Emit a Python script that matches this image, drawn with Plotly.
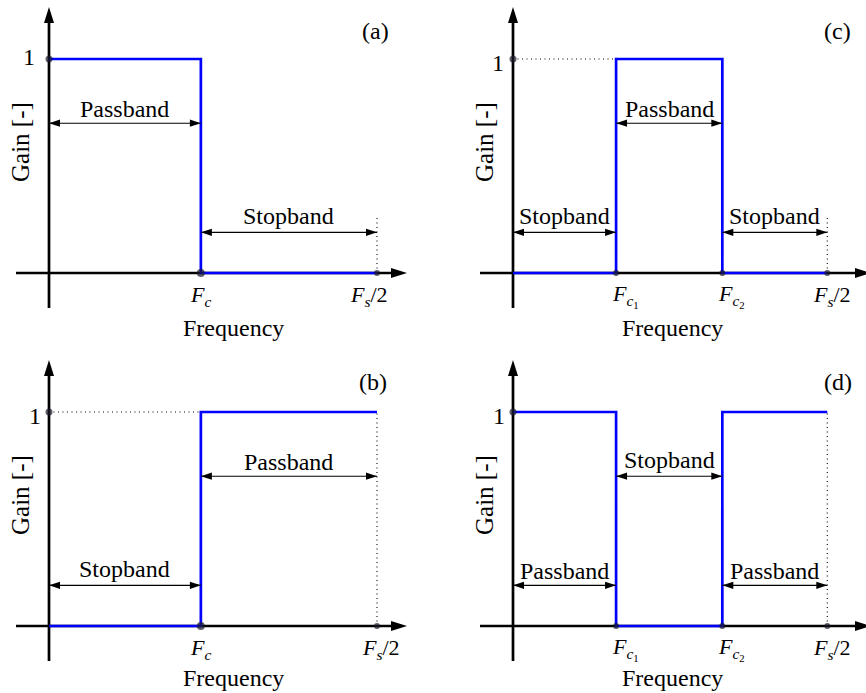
import plotly.graph_objects as go

# ---------------------------------------------------------------------------
# Ideal filter responses, frequency normalised so that Fs/2 = 1
# ---------------------------------------------------------------------------
FS_HALF = 1.0
FC_SINGLE = 0.463               # low-pass / high-pass cut-off Fc
FC_PAIR = [0.328, 0.666]        # band-pass / band-stop cut-offs Fc1, Fc2

LOWPASS_F = [0.0, FC_SINGLE, FS_HALF]
LOWPASS_G = [1, 0, 0]
HIGHPASS_F = [0.0, FC_SINGLE, FS_HALF]
HIGHPASS_G = [0, 1, 1]
BANDPASS_F = [0.0, FC_PAIR[0], FC_PAIR[1], FS_HALF]
BANDPASS_G = [0, 1, 0, 0]
BANDSTOP_F = [0.0, FC_PAIR[0], FC_PAIR[1], FS_HALF]
BANDSTOP_G = [1, 0, 1, 1]

UPPER_LEVEL = 0.70              # height of the upper band arrow
LOWER_LEVEL = 0.19              # height of the lower band arrow

FC_LABEL = "<i>F</i><sub><i>c</i></sub>"
FC1_LABEL = "<i>F</i><sub><i>c</i><sub>1</sub></sub>"
FC2_LABEL = "<i>F</i><sub><i>c</i><sub>2</sub></sub>"
FS_LABEL = "<i>F</i><sub><i>s</i></sub>/2"

W, H = 866, 693
FONT = "Liberation Serif, Times New Roman, serif"
BLUE = "#0000ff"

panels = [
    dict(tag="(a)", tag_pos=(375, 31), freq=LOWPASS_F, gain=LOWPASS_G,
         bands=[(0.0, FC_SINGLE, UPPER_LEVEL, "Passband"),
                (FC_SINGLE, FS_HALF, LOWER_LEVEL, "Stopband")],
         ticks=[(FC_SINGLE, FC_LABEL, 0, 8), (FS_HALF, FS_LABEL, -8, 6)],
         hdot=None, vdot_top=0.27,
         box=(0, 433, 0, 346.5), origin=(49, 273), unit=(328, 214),
         one_shift=(-20, 2), freq_x=0.564, freq_dy=-55),
    dict(tag="(b)", tag_pos=(373, 382), freq=HIGHPASS_F, gain=HIGHPASS_G,
         bands=[(FC_SINGLE, FS_HALF, UPPER_LEVEL, "Passband"),
                (0.0, FC_SINGLE, LOWER_LEVEL, "Stopband")],
         ticks=[(FC_SINGLE, FC_LABEL, 0, 8), (FS_HALF, FS_LABEL, 4, 6)],
         hdot=FC_SINGLE, vdot_top=1.0,
         box=(0, 433, 346.5, 693), origin=(49, 626), unit=(328, 214),
         one_shift=(-14, -4), freq_x=0.564, freq_dy=-52),
    dict(tag="(c)", tag_pos=(837, 31), freq=BANDPASS_F, gain=BANDPASS_G,
         bands=[(FC_PAIR[0], FC_PAIR[1], UPPER_LEVEL, "Passband"),
                (0.0, FC_PAIR[0], LOWER_LEVEL, "Stopband"),
                (FC_PAIR[1], FS_HALF, LOWER_LEVEL, "Stopband")],
         ticks=[(FC_PAIR[0], FC1_LABEL, 9, 6), (FC_PAIR[1], FC2_LABEL, 9, 6),
                (FS_HALF, FS_LABEL, 5, 6)],
         hdot=FC_PAIR[0], vdot_top=0.27,
         box=(433, 866, 0, 346.5), origin=(513, 273), unit=(314.3, 214),
         one_shift=(-15, -4), freq_x=0.506, freq_dy=-55),
    dict(tag="(d)", tag_pos=(838, 382), freq=BANDSTOP_F, gain=BANDSTOP_G,
         bands=[(FC_PAIR[0], FC_PAIR[1], UPPER_LEVEL, "Stopband"),
                (0.0, FC_PAIR[0], LOWER_LEVEL, "Passband"),
                (FC_PAIR[1], FS_HALF, LOWER_LEVEL, "Passband")],
         ticks=[(FC_PAIR[0], FC1_LABEL, 9, 6), (FC_PAIR[1], FC2_LABEL, 9, 6),
                (FS_HALF, FS_LABEL, 5, 6)],
         hdot=None, vdot_top=1.0,
         box=(433, 866, 346.5, 693), origin=(513, 626), unit=(314.3, 214),
         one_shift=(-14, -4), freq_x=0.506, freq_dy=-52),
]

fig = go.Figure()
layout = dict(width=W, height=H, margin=dict(l=0, r=0, t=0, b=0),
              paper_bgcolor="white", plot_bgcolor="white", showlegend=False)
shapes, annotations = [], []


def head(xr, yr, x, y, direction, length, half):
    """Filled arrow head whose tip sits on (x, y); sizes in pixels."""
    L, h = length, half
    paths = {
        "right": f"M0,0 L{-L},{h} L{-L},{-h} Z",
        "left": f"M0,0 L{L},{h} L{L},{-h} Z",
        "up": f"M0,0 L{-h},{-L} L{h},{-L} Z",
    }
    return dict(type="path", xref=xr, yref=yr, xsizemode="pixel",
                ysizemode="pixel", xanchor=x, yanchor=y, path=paths[direction],
                fillcolor="black", line=dict(width=0), layer="above")


def text(xr, yr, x, y, s, size, dx=0, dy=0, angle=0):
    return dict(xref=xr, yref=yr, x=x, y=y, xshift=dx, yshift=dy, text=s,
                textangle=angle, showarrow=False, xanchor="center",
                yanchor="middle",
                font=dict(family=FONT, size=size, color="black"))


for i, p in enumerate(panels, start=1):
    xr, yr = ("x", "y") if i == 1 else (f"x{i}", f"y{i}")
    xk, yk = ("xaxis", "yaxis") if i == 1 else (f"xaxis{i}", f"yaxis{i}")
    px0, px1, py0, py1 = p["box"]
    ox, oy = p["origin"]
    ux, uy = p["unit"]
    layout[xk] = dict(domain=[px0 / W, px1 / W], visible=False,
                      range=[(px0 - ox) / ux, (px1 - ox) / ux], anchor=yr,
                      fixedrange=True)
    layout[yk] = dict(domain=[1 - py1 / H, 1 - py0 / H], visible=False,
                      range=[(oy - py1) / uy, (oy - py0) / uy], anchor=xr,
                      fixedrange=True)

    # axes with arrow tips
    x_lo, x_hi = -33 / ux, 358 / ux
    y_lo, y_hi = -35 / uy, 266 / uy
    axis_line = dict(color="black", width=2.7)
    shapes.append(dict(type="line", xref=xr, yref=yr, x0=x_lo, x1=x_hi - 8 / ux,
                       y0=0, y1=0, line=axis_line, layer="below"))
    shapes.append(dict(type="line", xref=xr, yref=yr, x0=0, x1=0,
                       y0=y_lo, y1=y_hi - 8 / uy, line=axis_line, layer="below"))
    shapes.append(head(xr, yr, x_hi, 0, "right", 16, 5))
    shapes.append(head(xr, yr, 0, y_hi, "up", 16, 5))

    # dotted guides
    dotted = dict(color="black", width=1.1, dash="1px,3.5px")
    shapes.append(dict(type="line", xref=xr, yref=yr, x0=FS_HALF, x1=FS_HALF,
                       y0=0, y1=p["vdot_top"], line=dotted, layer="below"))
    if p["hdot"] is not None:
        shapes.append(dict(type="line", xref=xr, yref=yr, x0=0, x1=p["hdot"],
                           y0=1, y1=1, line=dotted, layer="below"))

    # the ideal response
    fig.add_trace(go.Scatter(x=p["freq"], y=p["gain"], mode="lines",
                             line=dict(color=BLUE, width=2.7, shape="hv"),
                             xaxis=xr, yaxis=yr, hoverinfo="skip",
                             cliponaxis=False))

    # marker dots on the axes
    tick_x = [t[0] for t in p["ticks"]]
    tick_size = [t[3] for t in p["ticks"]]
    fig.add_trace(go.Scatter(x=[0] + tick_x, y=[1] + [0] * len(tick_x),
                             mode="markers",
                             marker=dict(color="#1a1a2a", size=[7] + tick_size,
                                         line=dict(width=0)),
                             xaxis=xr, yaxis=yr, hoverinfo="skip",
                             cliponaxis=False))

    # band arrows and their labels
    for a, b, lvl, name in p["bands"]:
        shapes.append(dict(type="line", xref=xr, yref=yr, x0=a, x1=b,
                           y0=lvl, y1=lvl, line=dict(color="black", width=1.1),
                           layer="above"))
        shapes.append(head(xr, yr, a, lvl, "left", 11, 3.6))
        shapes.append(head(xr, yr, b, lvl, "right", 11, 3.6))
        annotations.append(text(xr, yr, (a + b) / 2, lvl, name, 24,
                                dy=14 if name == "Passband" else 16))

    # tick labels below the frequency axis
    for xv, label, dx, _ in p["ticks"]:
        annotations.append(text(xr, yr, xv, 0, label, 22, dx=dx, dy=-23))

    # gain "1" label
    sx, sy = p["one_shift"]
    annotations.append(text(xr, yr, 0, 1, "1", 24, dx=sx, dy=sy))

    # axis titles
    annotations.append(text(xr, yr, p["freq_x"], 0, "Frequency", 24,
                            dy=p["freq_dy"]))
    annotations.append(text(xr, yr, 0, 131 / uy, "Gain [-]", 25, dx=-29,
                            angle=-90))

    # panel tag
    tx, ty = p["tag_pos"]
    annotations.append(text("paper", "paper", tx / W, 1 - ty / H, p["tag"], 24))

layout["shapes"] = shapes
layout["annotations"] = annotations
fig.update_layout(**layout)
fig.write_html("out.html")
